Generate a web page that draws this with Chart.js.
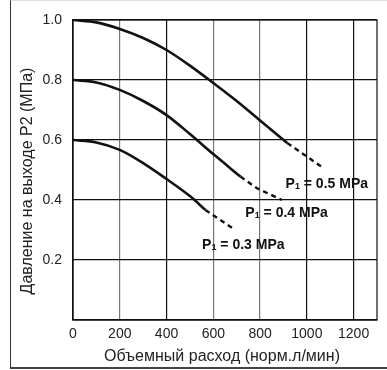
<!DOCTYPE html>
<html>
<head>
<meta charset="utf-8">
<script src="https://cdn.jsdelivr.net/npm/chart.js@4"></script>
<style>
  html, body { margin: 0; padding: 0; background: #fff; }
  #wrap { position: relative; width: 387px; height: 370px; overflow: hidden; }
  #frame { position: absolute; left: 10px; top: 0; width: 400px; height: 366px;
           border-left: 1.5px solid #333; border-bottom: 2px solid #444; border-top: 1px solid #ddd; }
  #c { position: absolute; left: 0; top: 0; }
</style>
</head>
<body>
<div id="wrap">
  <div id="frame"></div>
  <canvas id="c" width="387" height="370"></canvas>
</div>
<script>
/* ── кривые расхода для трёх давлений на входе ── */
const xTicks = [0, 200, 400, 600, 800, 1000, 1200];
const yTicks = [0.2, 0.4, 0.6, 0.8, 1.0];
const xTitle = 'Объемный расход (норм.л/мин)';
const yTitle = 'Давление на выходе P2 (МПа)';

// P1 = 0.5 MPa
const flow05   = [0, 100, 200, 300, 400, 500, 600, 700, 800, 916];
const press05  = [1.0, 0.992, 0.97, 0.94, 0.90, 0.848, 0.79, 0.73, 0.665, 0.59];
const flow05d  = [916, 1065];
const press05d = [0.59, 0.51];

// P1 = 0.4 MPa
const flow04   = [0, 100, 200, 300, 400, 500, 600, 716];
const press04  = [0.8, 0.792, 0.767, 0.73, 0.683, 0.62, 0.553, 0.478];
const flow04d  = [716, 787, 894];
const press04d = [0.478, 0.439, 0.40];

// P1 = 0.3 MPa
const flow03   = [0, 100, 200, 300, 400, 500, 566];
const press03  = [0.6, 0.592, 0.567, 0.523, 0.47, 0.413, 0.367];
const flow03d  = [566, 694];
const press03d = [0.367, 0.30];

const curveLabels = ['0.5 MPa', '0.4 MPa', '0.3 MPa'];

const FONT = '"Liberation Sans", Arial, sans-serif';
const pts = (xs, ys) => xs.map((x, i) => ({ x, y: ys[i] }));
const solid  = (xs, ys) => ({ data: pts(xs, ys), borderColor: '#111', borderWidth: 2.6, pointRadius: 0,
                              showLine: true, cubicInterpolationMode: 'monotone', fill: false });
const dashed = (xs, ys) => ({ ...solid(xs, ys), borderDash: [5, 4], borderWidth: 2.4, cubicInterpolationMode: 'default', tension: 0 });

/* подписи P1 = ... с подстрочным индексом */
const labelPlugin = {
  id: 'p1labels',
  afterDatasetsDraw(chart) {
    const { ctx, scales: { x, y } } = chart;
    const anchors = [[909, 0.44], [737, 0.343], [552, 0.237]];
    ctx.save();
    ctx.fillStyle = '#111';
    ctx.textBaseline = 'alphabetic';
    anchors.forEach(([fx, fp], i) => {
      let px = x.getPixelForValue(fx), py = y.getPixelForValue(fp);
      ctx.font = 'bold 14px ' + FONT;
      ctx.fillText('P', px, py);
      px += ctx.measureText('P').width;
      ctx.font = 'bold 9px ' + FONT;
      ctx.fillText('1', px, py + 1);
      px += ctx.measureText('1').width;
      ctx.font = 'bold 14px ' + FONT;
      ctx.fillText(' = ' + curveLabels[i], px, py);
    });
    ctx.restore();
  }
};

/* заголовки осей и рамка области графика */
const framePlugin = {
  id: 'frameTitles',
  afterDraw(chart) {
    const { ctx, chartArea: a } = chart;
    ctx.save();
    ctx.strokeStyle = '#111'; ctx.lineWidth = 1.2;
    ctx.strokeRect(a.left, a.top, a.right - a.left, a.bottom - a.top);
    ctx.fillStyle = '#222';
    ctx.font = '16px ' + FONT;
    ctx.textAlign = 'center'; ctx.textBaseline = 'middle';
    ctx.fillText(xTitle, 222, 357);
    ctx.translate(28, 181);
    ctx.rotate(-Math.PI / 2);
    ctx.fillText(yTitle, 0, 0);
    ctx.restore();
  }
};

const tickFont = { family: FONT, size: 14 };

new Chart(document.getElementById('c').getContext('2d'), {
  type: 'scatter',
  data: {
    datasets: [
      solid(flow05, press05), dashed(flow05d, press05d),
      solid(flow04, press04), dashed(flow04d, press04d),
      solid(flow03, press03), dashed(flow03d, press03d)
    ]
  },
  options: {
    responsive: false, animation: false,
    layout: { padding: { top: 20, right: 10, left: 0, bottom: 0 } },
    plugins: { legend: { display: false }, tooltip: { enabled: false } },
    scales: {
      x: {
        type: 'linear', min: 0, max: 1300,
        afterBuildTicks: s => { s.ticks = xTicks.map(v => ({ value: v })); },
        afterFit: s => { s.height = 50; },
        ticks: { color: '#222', font: tickFont, padding: 6, callback: v => v },
        grid: { drawTicks: false, lineWidth: 1.2,
                color: c => [200, 600, 800].includes(c.tick && c.tick.value) ? '#777' : '#111' },
        border: { color: '#111', width: 1.2 }
      },
      y: {
        type: 'linear', min: 0, max: 1.0,
        afterBuildTicks: s => { s.ticks = [0].concat(yTicks).map(v => ({ value: v })); },
        afterFit: s => { s.width = 73; },
        ticks: { color: '#222', font: tickFont, padding: 11, callback: v => v === 0 ? '' : v.toFixed(1) },
        grid: { drawTicks: false, color: '#111', lineWidth: 1.2 },
        border: { color: '#111', width: 1.2 }
      }
    }
  },
  plugins: [labelPlugin, framePlugin]
});
</script>
</body>
</html>
